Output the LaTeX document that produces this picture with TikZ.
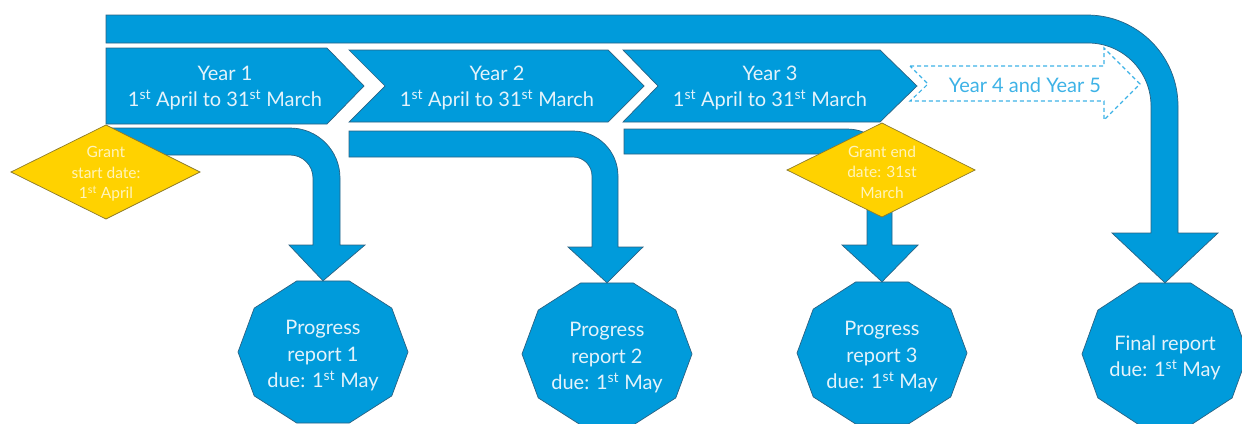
\documentclass[tikz,border=0pt]{standalone}
\usepackage{fontspec}
\setmainfont{Lato}
\definecolor{mblue}{HTML}{009BDB}
\definecolor{medge}{HTML}{2A6283}
\definecolor{btext}{HTML}{E4F3FB}
\definecolor{myel}{HTML}{FFD200}
\definecolor{yedge}{HTML}{8C7A2C}
\definecolor{ytext}{HTML}{FFF4BC}
\definecolor{lblue}{HTML}{3DB2E6}
\newcommand\mydeca[3]{\draw[blk] plot[samples at={0,36,...,324}] ({#1+#3*cos(\x)},{#2+74.7*sin(\x)}) -- cycle;}
\begin{document}
\begin{tikzpicture}[x=1pt,y=-1pt,
  blk/.style={fill=mblue,draw=medge,line width=0.7pt,line join=miter},
  ylw/.style={fill=myel,draw=yedge,line width=0.7pt},
  btxt/.style={text=btext,align=center,inner sep=0pt,font=\fontsize{20}{26.5}\selectfont},
  ytxt/.style={text=ytext,align=center,inner sep=0pt,font=\fontsize{15.5}{20.5}\selectfont},
  rep/.style={minimum width=170pt,minimum height=150pt,inner sep=0pt,text=btext,align=center,font=\fontsize{20}{26.5}\selectfont},
  dsh/.style={draw=lblue,line width=1.1pt,dash pattern=on 4pt off 3pt}]
\useasboundingbox (0,0) rectangle (1242,423);
% report nodes (decagons)
\mydeca{323}{352}{85}
\mydeca{607}{354}{85}
\mydeca{882}{353}{85}
\mydeca{1165}{354}{83}
\node[rep] (p1) at (323,356) {Progress\\report 1\\due: 1\textsuperscript{st} May};
\node[rep] (p2) at (607,358) {Progress\\report 2\\due: 1\textsuperscript{st} May};
\node[rep] (p3) at (882,357) {Progress\\report 3\\due: 1\textsuperscript{st} May};
\node[rep] (fr) at (1165,358) {Final report\\due: 1\textsuperscript{st} May};
% top bar to final report
\draw[blk] (106,15) -- (1087,15) arc[start angle=-90,end angle=0,radius=91] -- (1178,233) -- (1218,233) -- (fr.north) -- (1112,233) -- (1151,233) -- (1151,106) arc[start angle=0,end angle=-90,radius=63] -- (106,43) -- cycle;
% year chevrons
\draw[blk] (106,48) -- (327,48) -- (364,86) -- (327,124) -- (106,124) -- cycle;
\draw[blk] (349,50) -- (608,50) -- (644,86) -- (608,122) -- (349,122) -- (385,86) -- cycle;
\draw[blk] (623,50) -- (880,50) -- (917,86) -- (880,122) -- (623,122) -- (658,86) -- cycle;
\node[btxt] (y1) at (225,88) {Year 1\\1\textsuperscript{st} April to 31\textsuperscript{st} March};
\node[btxt] (y2) at (497,88) {Year 2\\1\textsuperscript{st} April to 31\textsuperscript{st} March};
\node[btxt] (y3) at (770,88) {Year 3\\1\textsuperscript{st} April to 31\textsuperscript{st} March};
% dashed year 4/5
\draw[dsh] (910,66) -- (1104,66) -- (1104,48) -- (1140,84) -- (1104,120) -- (1104,101) -- (910,101) -- (928,84) -- cycle;
\node[text=lblue,inner sep=0pt,font=\fontsize{20}{24}\selectfont] (y45) at (1025,85) {Year 4 and Year 5};
% bends to progress reports
\draw[blk] (106,128) -- (290,128) arc[start angle=-90,end angle=0,radius=50] -- (340,245) -- (365,245) -- (p1.north) -- (289,245) -- (313,245) -- (313,178) arc[start angle=0,end angle=-90,radius=23] -- (106,155) -- cycle;
\draw[blk] (349,131) -- (573,131) arc[start angle=-90,end angle=0,radius=45] -- (618,247) -- (643,247) -- (p2.north) -- (568,247) -- (592,247) -- (592,176) arc[start angle=0,end angle=-90,radius=19] -- (349,157) -- cycle;
\draw[blk] (624,129) -- (847,129) arc[start angle=-90,end angle=0,radius=45] -- (892,245) -- (918,245) -- (p3.north) -- (842,245) -- (867,245) -- (867,174) arc[start angle=0,end angle=-90,radius=20] -- (624,154) -- cycle;
% diamonds
\draw[ylw] (11,172) -- (106,125) -- (200,172) -- (106,219) -- cycle;
\node[ytxt] (sd) at (106,174) {Grant\\start date:\\1\textsuperscript{st} April};
\draw[ylw] (787,170) -- (882,123) -- (975,170) -- (882,217) -- cycle;
\node[ytxt] (ed) at (882,172) {Grant end\\date: 31st\\March};
\end{tikzpicture}
\end{document}
